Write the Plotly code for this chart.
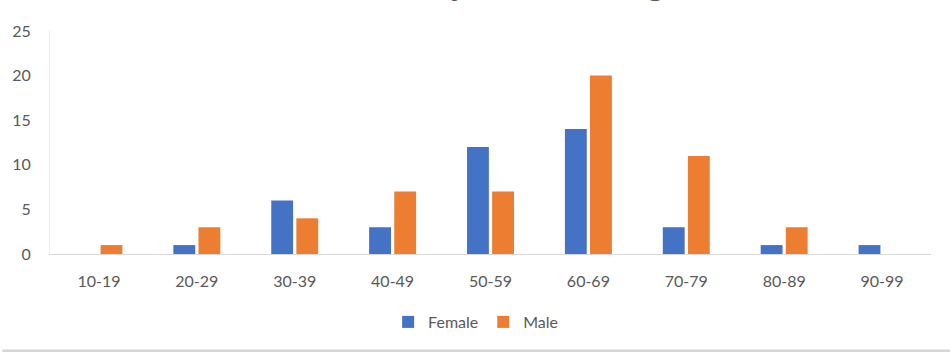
import plotly.graph_objects as go

age_groups = ["10-19", "20-29", "30-39", "40-49", "50-59", "60-69", "70-79", "80-89", "90-99"]
female = [0, 1, 6, 3, 12, 14, 3, 1, 1]
male = [1, 3, 4, 7, 7, 20, 11, 3, 0]
y_ticks = [0, 5, 10, 15, 20, 25]
title_text = "Distribution by Gender and Age"

W, H = 950, 352
L, R, T, B = 43, 19, 31, 98  # plot area: x 43..931, y 31..254
pw, ph = W - L - R, H - T - B

def px_x(x):
    return (x - L) / pw

def px_y(y):
    return (H - B - y) / ph

font_family = "Lato, Open Sans, sans-serif"
gray = "#595959"

fig = go.Figure()
fig.add_trace(go.Bar(name="Female", x=age_groups, y=female, marker_color="#4472C4",
                     marker_line_width=0))
fig.add_trace(go.Bar(name="Male", x=age_groups, y=male, marker_color="#ED7D31",
                     marker_line_width=0))

fig.update_layout(
    width=W, height=H,
    margin=dict(l=L, r=R, t=T, b=B, pad=0),
    paper_bgcolor="white", plot_bgcolor="white",
    barmode="group", bargap=0.487, bargroupgap=0.13,
    font=dict(family=font_family, size=16, color=gray),
    showlegend=True,
    legend=dict(orientation="h", x=px_x(472), xanchor="center", y=px_y(322), yanchor="middle",
                font=dict(size=16, color=gray), itemwidth=30, traceorder="normal",
                bgcolor="rgba(0,0,0,0)"),
)
fig.update_xaxes(showgrid=False, showline=True, linecolor="#d9d9d9", linewidth=1,
                 ticks="", ticklabelstandoff=13, tickfont=dict(size=16, color=gray),
                 zeroline=False, fixedrange=True)
fig.update_yaxes(range=[0, 25], tickvals=y_ticks, showgrid=False, zeroline=False,
                 showline=True, linecolor="#ececec", linewidth=1,
                 ticks="", ticklabelstandoff=15, tickfont=dict(size=16, color=gray),
                 fixedrange=True)

# partially visible chart title (cut off at the top of the image)
fig.add_annotation(text="<b>" + title_text + "</b>", xref="paper", yref="paper",
                   x=px_x(471), y=px_y(5), xanchor="center", yanchor="bottom",
                   showarrow=False, font=dict(size=26, color=gray, family="Open Sans, sans-serif"))

# bottom border band
fig.add_shape(type="rect", xref="paper", yref="paper",
              x0=px_x(-5), x1=px_x(W + 5), y0=px_y(353), y1=px_y(349.5),
              fillcolor="#d6d6d6", line_width=0, layer="above")

fig.write_html("out.html")
